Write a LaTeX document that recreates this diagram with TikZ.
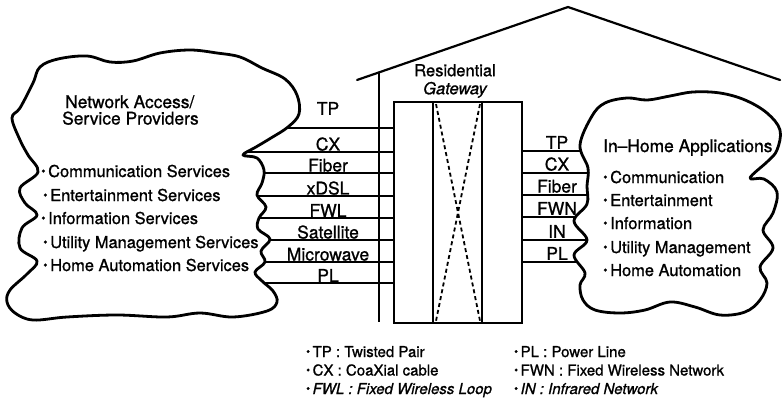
\documentclass[tikz,border=0pt]{standalone}
\usepackage{fontspec}
\setmainfont{TeX Gyre Heros}[FakeBold=1.0]
\usetikzlibrary{positioning}

\newcommand{\sbul}{\raisebox{0.2ex}{\scalebox{0.75}{\textbullet}}\,}

\begin{document}
\begin{tikzpicture}[x=1pt, y=-1pt,
  wire/.style={line width=1.8pt},
  roofline/.style={line width=2.2pt, line cap=round},
  cloudline/.style={line width=2.8pt, line join=round, fill=white},
  xline/.style={line width=1.8pt, dash pattern=on 4pt off 3pt},
  lbl/.style={font=\fontsize{17.5}{18}\selectfont, inner sep=0pt, anchor=south},
  ttl/.style={font=\fontsize{17.4}{18}\selectfont, inner sep=0pt, anchor=base west},
  item/.style={font=\fontsize{16.4}{18}\selectfont, inner sep=0pt, anchor=base west},
  key/.style={font=\fontsize{15}{16}\selectfont, inner sep=0pt, anchor=base west}
]
  \useasboundingbox (0,0) rectangle (783,399);

  % house
  \coordinate (roofL) at (357,80);
  \coordinate (peak)  at (568,7);
  \coordinate (roofR) at (780,80);
  \coordinate (wallT) at (379,72.4);
  \coordinate (wallB) at (379,322);
  \draw[roofline] (roofL) -- (peak) -- (roofR);
  \draw[wire] (wallT) -- (wallB);

  \node[draw, line width=1.8pt, minimum width=128pt, minimum height=221pt,
        inner sep=0pt] (gw) at (458,212.5) {};
  \node[font=\fontsize{16.5}{18}\selectfont, align=center, inner sep=0pt]
        (gwtxt) at (455,81) {Residential\\\itshape Gateway};
  \draw[wire] ([xshift=-25pt]gw.north) -- ([xshift=-25pt]gw.south);
  \draw[wire] ([xshift=24pt]gw.north) -- ([xshift=24pt]gw.south);
  \draw[xline] ([xshift=-22pt,yshift=-3pt]gw.north) -- ([xshift=22pt,yshift=3pt]gw.south);
  \draw[xline] ([xshift=22pt,yshift=-3pt]gw.north) -- ([xshift=-22pt,yshift=3pt]gw.south);

  % access lines
  \coordinate (a1) at (200,128);
  \coordinate (a2) at (200,152);
  \coordinate (a3) at (200,173);
  \coordinate (a4) at (200,196);
  \coordinate (a5) at (200,218);
  \coordinate (a6) at (200,240);
  \coordinate (a7) at (200,262);
  \coordinate (a8) at (200,283);
  \draw[wire] (a1) -- (a1 -| gw.west);
  \draw[wire] (a2) -- (a2 -| gw.west);
  \draw[wire] (a3) -- (a3 -| gw.west);
  \draw[wire] (a4) -- (a4 -| gw.west);
  \draw[wire] (a5) -- (a5 -| gw.west);
  \draw[wire] (a6) -- (a6 -| gw.west);
  \draw[wire] (a7) -- (a7 -| gw.west);
  \draw[wire] (a8) -- (a8 -| gw.west);

  % in-home lines
  \coordinate (h1) at (620,151);
  \coordinate (h2) at (620,173);
  \coordinate (h3) at (620,195);
  \coordinate (h4) at (620,217);
  \coordinate (h5) at (620,240);
  \coordinate (h6) at (620,262);
  \draw[wire] (h1 -| gw.east) -- (h1);
  \draw[wire] (h2 -| gw.east) -- (h2);
  \draw[wire] (h3 -| gw.east) -- (h3);
  \draw[wire] (h4 -| gw.east) -- (h4);
  \draw[wire] (h5 -| gw.east) -- (h5);
  \draw[wire] (h6 -| gw.east) -- (h6);

  % clouds
  \draw[cloudline] plot[smooth cycle, tension=0.6] coordinates {
    (40,67) (58,59) (87,56) (110,62) (133,61) (160,53) (190,50) (217,53)
    (240,57) (262,68) (285,79) (297,95) (299,114) (288,127) (271,138)
    (256,147) (243,155) (257,158) (264,170) (262,183) (257,195) (266,207)
    (259,218) (258,229) (270,239) (261,251) (265,262) (255,272) (262,281)
    (273,291) (277,302) (267,311) (233,317) (200,313) (167,317) (117,315)
    (67,317) (33,320) (15,313) (7,302) (10,290) (27,274) (37,261) (20,248)
    (22,228) (37,215) (25,203) (20,188) (38,172) (28,155) (20,140) (12,118)
    (20,108) (33,83)};
  \draw[cloudline] plot[smooth cycle, tension=0.6] coordinates {
    (592,116) (605,103) (627,98) (647,100) (670,96) (693,92) (720,93)
    (745,100) (767,113) (780,130) (777,150) (768,161) (750,178) (764,179)
    (777,192) (773,213) (763,230) (773,248) (760,267) (767,283) (760,300)
    (745,312) (720,315) (695,307) (670,302) (645,310) (620,313) (595,310)
    (583,300) (580,285) (585,273) (574,255) (587,240) (574,221) (587,204)
    (587,186) (588,168) (580,145)};

  % line labels
  \node[lbl] (lTP)  at (328,115) {TP};
  \node[lbl] (lCX)  at (328,151) {CX};
  \node[lbl] (lFB)  at (328,172) {Fiber};
  \node[lbl] (lDSL) at (328,195) {xDSL};
  \node[lbl] (lFWL) at (328,217) {FWL};
  \node[lbl] (lSAT) at (328,239) {Satellite};
  \node[lbl] (lMW)  at (328,261) {Microwave};
  \node[lbl] (lPL)  at (328,282) {PL};

  \node[lbl] (rTP)  at (557,149) {TP};
  \node[lbl] (rCX)  at (557,171) {CX};
  \node[lbl] (rFB)  at (557,193) {Fiber};
  \node[lbl] (rFWN) at (557,215) {FWN};
  \node[lbl] (rIN)  at (557,238) {IN};
  \node[lbl] (rPL)  at (557,260) {PL};

  % cloud texts
  \node[ttl] (napA) at (65,108) {Network Access/};
  \node[ttl] (napB) at (62,124.5) {Service Providers};
  \node[item] (s1) at (41,177) {\sbul Communication Services};
  \node[item] (s2) at (43,201) {\sbul Entertainment Services};
  \node[item] (s3) at (41,224) {\sbul Information Services};
  \node[item] (s4) at (43,248) {\sbul Utility Management Services};
  \node[item] (s5) at (43,271) {\sbul Home Automation Services};

  \node[ttl] (iha) at (603,152) {In--Home Applications};
  \node[item] (a1t) at (603,183) {\sbul Communication};
  \node[item] (a2t) at (603,206) {\sbul Entertainment};
  \node[item] (a3t) at (603,229) {\sbul Information};
  \node[item] (a4t) at (603,253) {\sbul Utility Management};
  \node[item] (a5t) at (603,276) {\sbul Home Automation};

  % legend
  \node[key] (k1) at (306,357)   {\sbul TP : Twisted Pair};
  \node[key] (k2) at (306,375.5) {\sbul CX : CoaXial cable};
  \node[key] (k3) at (306,394)   {\sbul\itshape FWL : Fixed Wireless Loop};
  \node[key] (k4) at (514,357)   {\sbul PL : Power Line};
  \node[key] (k5) at (514,375.5) {\sbul FWN : Fixed Wireless Network};
  \node[key] (k6) at (514,394)   {\sbul\itshape IN : Infrared Network};
\end{tikzpicture}
\end{document}
